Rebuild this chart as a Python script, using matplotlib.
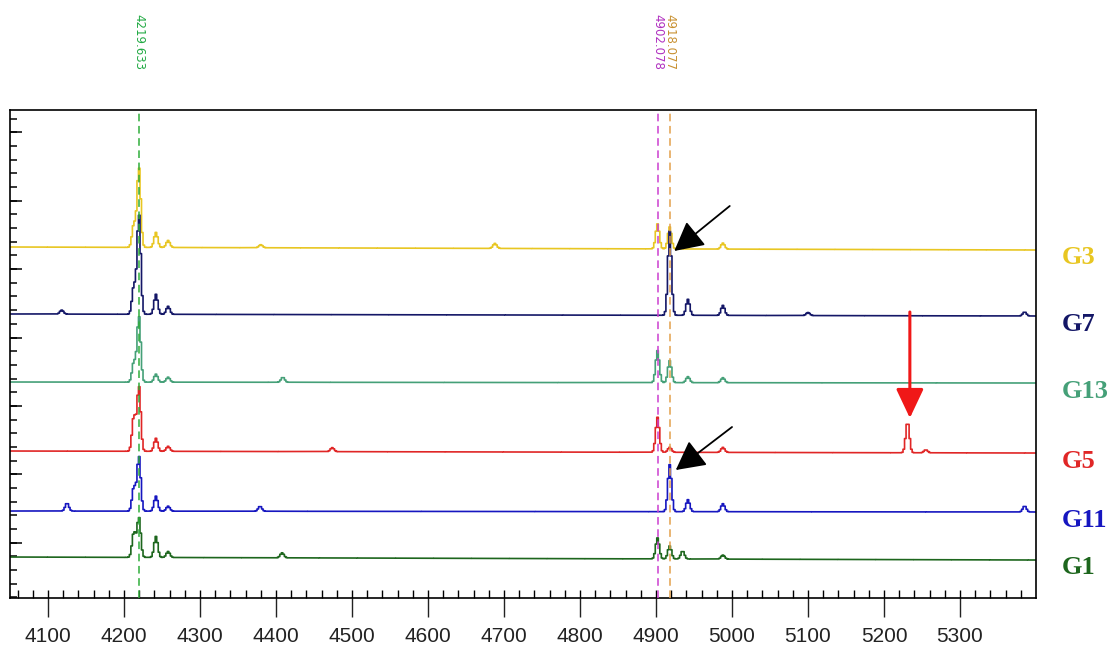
"""Stacked mass spectra of six samples with marked m/z peaks."""

import matplotlib
matplotlib.use("Agg")
import matplotlib.pyplot as plt
import matplotlib.transforms as mtransforms
import numpy as np

# m/z window
MZ_MIN, MZ_MAX = 4050, 5400

# trace names, top to bottom
names = ["G3", "G7", "G13", "G5", "G11", "G1"]
colors = ["#e8c622", "#141767", "#45a078", "#e02626", "#1616c0", "#1d661d"]

# baseline level at left and right end (arbitrary intensity units)
baseline_left = [351, 284, 216, 147, 87, 41]
baseline_right = [348, 282, 215, 145, 86, 38]

# peak lists (m/z, height)
g3_centers = [4213, 4219.6, 4242, 4258, 4380, 4688, 4902, 4918, 4988]
g3_heights = [23, 80, 15, 7, 3, 5, 25, 22, 6]
g7_centers = [4213, 4219.6, 4242, 4258, 4118, 4918, 4942, 4988, 5100, 5385]
g7_heights = [28, 100, 20, 8, 4, 84, 16, 10, 3, 4]
g13_centers = [4213, 4219.6, 4242, 4258, 4409, 4902, 4918, 4942, 4988]
g13_heights = [20, 66, 8, 5, 5, 32, 22, 6, 5]
g5_centers = [4213, 4219.6, 4242, 4258, 4474, 4902, 4918, 4988, 5231, 5255]
g5_heights = [35, 65, 13, 5, 4, 35, 5, 5, 31, 3]
g11_centers = [4125, 4213, 4219.6, 4242, 4258, 4379, 4918, 4942, 4988, 5385]
g11_heights = [8, 24, 55, 15, 5, 5, 47, 12, 8, 6]
g1_centers = [4213, 4219.6, 4242, 4258, 4408, 4902, 4918, 4935, 4988]
g1_heights = [25, 40, 21, 6, 5, 21, 13, 8, 4]

peak_centers = [g3_centers, g7_centers, g13_centers, g5_centers, g11_centers, g1_centers]
peak_heights = [g3_heights, g7_heights, g13_heights, g5_heights, g11_heights, g1_heights]

# marked reference masses
marker_mz = [4219.633, 4902.078, 4918.077]
marker_colors = ["#2fae3a", "#cc3fd0", "#e3a04c"]
marker_text_colors = ["#22aa44", "#b030c0", "#c89030"]

# arrows: (tail m/z, tail y, tip m/z, tip y)
black_arrows = [(4997, 392, 4924, 347), (5000, 171, 4926, 128)]
red_arrow = (5234, 286, 5234, 180)

PEAK_SIGMA = 2.4


def build_trace(baseline_pair, centers, heights, mz):
    """Sum narrow peaks on a slightly sloped baseline."""
    level = np.interp(mz, [MZ_MIN, MZ_MAX], baseline_pair)
    for center, height in zip(centers, heights):
        level = level + height * np.exp(-0.5 * ((mz - center) / PEAK_SIGMA) ** 2)
    return level


def main():
    mz = np.arange(MZ_MIN, MZ_MAX + 1, 2.0)

    fig = plt.figure(figsize=(11.14, 6.47), dpi=100)
    ax = fig.add_axes([0.009, 0.0757, 0.921, 0.7543])

    label_trans = mtransforms.blended_transform_factory(ax.transAxes, ax.transData)
    for i, name in enumerate(names):
        trace = build_trace((baseline_left[i], baseline_right[i]),
                            peak_centers[i], peak_heights[i], mz)
        ax.plot(mz, trace, color=colors[i], lw=1.2, drawstyle="steps-mid", zorder=2)
        ax.text(1.025, (baseline_left[i] + baseline_right[i]) / 2 - 9, name,
                transform=label_trans, color=colors[i], fontsize=19,
                fontweight="bold", family="Liberation Serif", ha="left", va="center")

    top_trans = mtransforms.blended_transform_factory(ax.transData, fig.transFigure)
    for value, line_color, text_color in zip(marker_mz, marker_colors, marker_text_colors):
        ax.axvline(value, color=line_color, lw=1.1, ls=(0, (5, 3)), zorder=3)
        ax.text(value, 1 - 14 / 647, f"{value:.3f}", transform=top_trans,
                rotation=-90, ha="center", va="top", fontsize=8.5, color=text_color)

    for tail_x, tail_y, tip_x, tip_y in black_arrows:
        ax.annotate("", xy=(tip_x, tip_y), xytext=(tail_x, tail_y),
                    arrowprops=dict(arrowstyle="-|>,head_length=1.8,head_width=0.95",
                                    color="black", lw=1.3, shrinkA=0, shrinkB=0,
                                    mutation_scale=10), zorder=5)
    ax.annotate("", xy=red_arrow[2:], xytext=red_arrow[:2],
                arrowprops=dict(arrowstyle="-|>,head_length=1.8,head_width=0.85",
                                color="#f01818", lw=2.2, shrinkA=0, shrinkB=0,
                                mutation_scale=10), zorder=5)

    ax.set_xlim(MZ_MIN, MZ_MAX)
    ax.set_ylim(0, 488)
    ax.set_xticks(np.arange(4100, 5301, 100))
    ax.set_xticks(np.arange(4060, MZ_MAX, 20), minor=True)
    ax.xaxis.remove_overlapping_locs = False
    ax.set_yticks(np.arange(55.3, 488, 68.4))
    ax.set_yticks(np.arange(55.3 - 4 * 13.68, 488, 13.68), minor=True)
    ax.yaxis.remove_overlapping_locs = False
    ax.set_yticklabels([])

    ax.tick_params(axis="x", which="major", direction="out", length=14, width=1,
                   labelsize=15, pad=7, colors="#222222")
    ax.tick_params(axis="x", which="minor", direction="in", length=5.5, width=1)
    ax.tick_params(axis="y", which="major", direction="in", length=8.6, width=1.1)
    ax.tick_params(axis="y", which="minor", direction="in", length=5, width=1.1)
    for label in ax.get_xticklabels():
        label.set_family("Liberation Sans")
    for spine in ax.spines.values():
        spine.set_linewidth(1.2)

    fig.savefig("out.png", dpi=100)
    plt.close(fig)


if __name__ == "__main__":
    main()
